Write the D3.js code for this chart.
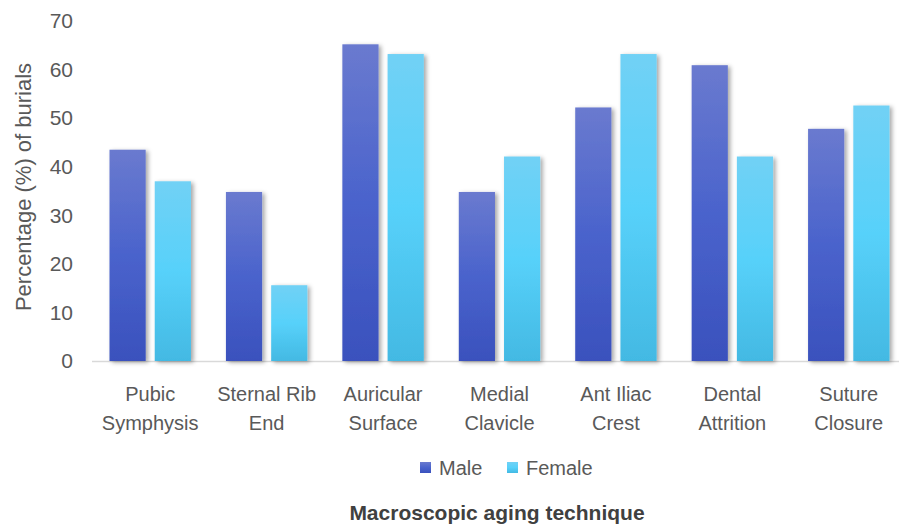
<!DOCTYPE html>
<html>
<head>
<meta charset="utf-8">
<script src="https://cdn.jsdelivr.net/npm/d3@7"></script>
<style>
  body { margin: 0; background: #fff; }
  text { font-family: "Liberation Sans", Arial, sans-serif; fill: #595959; }
</style>
</head>
<body>
<svg id="chart" width="899" height="524"></svg>
<script>
const categories = [
  ['Pubic', 'Symphysis'],
  ['Sternal Rib', 'End'],
  ['Auricular', 'Surface'],
  ['Medial', 'Clavicle'],
  ['Ant Iliac', 'Crest'],
  ['Dental', 'Attrition'],
  ['Suture', 'Closure'],
];
const seriesNames = ['Male', 'Female'];
const maleValues = [43.5, 34.8, 65.2, 34.8, 52.2, 60.9, 47.8];
const femaleValues = [37.0, 15.6, 63.2, 42.1, 63.2, 42.1, 52.6];
const yTicks = [0, 10, 20, 30, 40, 50, 60, 70];

const width = 899;
const height = 524;
const svg = d3.select('#chart');

const catKeys = categories.map((c) => c.join(' '));
const rows = catKeys.map((key, i) => ({ key, values: [maleValues[i], femaleValues[i]] }));

const x0 = d3.scaleBand().domain(catKeys).range([92, 907]).padding(0);
const x1 = d3.scaleBand().domain(seriesNames).range([17.5, x0.bandwidth() - 17.5]).paddingInner(0.2);
const y = d3.scaleLinear().domain([0, 70]).range([361, 21]);

const defs = svg.append('defs');
const gradients = [
  { id: 'gMale', stops: ['#6a7acf', '#4a63cc', '#3a51bd'] },
  { id: 'gFemale', stops: ['#71d1f5', '#57d1fa', '#43b9e3'] },
];
gradients.forEach((g) => {
  const lg = defs.append('linearGradient').attr('id', g.id)
    .attr('x1', 0).attr('y1', 0).attr('x2', 0).attr('y2', 1);
  g.stops.forEach((c, i) => lg.append('stop').attr('offset', `${i * 50}%`).attr('stop-color', c));
});
const filter = defs.append('filter').attr('id', 'shadow')
  .attr('x', '-20%').attr('y', '-5%').attr('width', '150%').attr('height', '115%');
filter.append('feDropShadow').attr('dx', 2.5).attr('dy', 1.5).attr('stdDeviation', 2)
  .attr('flood-color', '#000').attr('flood-opacity', 0.35);

// axis line
svg.append('line')
  .attr('x1', 92).attr('x2', 899)
  .attr('y1', y(0) + 0.5).attr('y2', y(0) + 0.5)
  .attr('stroke', '#d9d9d9').attr('stroke-width', 1.5);

// bars
const groups = svg.append('g')
  .selectAll('g')
  .data(rows)
  .enter()
  .append('g')
  .attr('transform', (d) => `translate(${x0(d.key)},0)`);

groups.selectAll('rect')
  .data((d) => d.values.map((v, i) => ({ name: seriesNames[i], value: v })))
  .enter()
  .append('rect')
  .attr('x', (d) => x1(d.name))
  .attr('y', (d) => y(d.value))
  .attr('width', x1.bandwidth())
  .attr('height', (d) => y(0) - y(d.value))
  .attr('fill', (d) => (d.name === 'Male' ? 'url(#gMale)' : 'url(#gFemale)'))
  .attr('filter', 'url(#shadow)');

// y tick labels
svg.append('g')
  .selectAll('text')
  .data(yTicks)
  .enter()
  .append('text')
  .text((d) => d)
  .attr('x', 73)
  .attr('y', (d) => y(d))
  .attr('dy', '0.35em')
  .attr('text-anchor', 'end')
  .style('font-size', '21px');

// category labels
const catLabels = svg.append('g')
  .selectAll('text')
  .data(categories)
  .enter()
  .append('text')
  .attr('text-anchor', 'middle')
  .style('font-size', '20px');

catLabels.selectAll('tspan')
  .data((d, i) => d.map((line) => ({ line, key: catKeys[i] })))
  .enter()
  .append('tspan')
  .attr('x', (d) => x0(d.key) + x0.bandwidth() / 2)
  .attr('y', (d, i) => 401 + i * 29)
  .text((d) => d.line);

// legend
const legendItems = [
  { name: 'Male', fill: 'url(#gMale)', x: 420 },
  { name: 'Female', fill: 'url(#gFemale)', x: 507 },
];
const legend = svg.append('g');
legend.selectAll('rect')
  .data(legendItems)
  .enter()
  .append('rect')
  .attr('x', (d) => d.x)
  .attr('y', 462)
  .attr('width', 11)
  .attr('height', 11)
  .attr('fill', (d) => d.fill);
legend.selectAll('text')
  .data(legendItems)
  .enter()
  .append('text')
  .text((d) => d.name)
  .attr('x', (d) => d.x + 19)
  .attr('y', 475)
  .style('font-size', '20px');

// axis titles
svg.append('text')
  .text('Macroscopic aging technique')
  .attr('x', 497)
  .attr('y', 520)
  .attr('text-anchor', 'middle')
  .style('font-size', '21px')
  .style('font-weight', 'bold')
  .style('fill', '#404040');

svg.append('text')
  .text('Percentage (%) of burials')
  .attr('transform', 'translate(31,187) rotate(-90)')
  .attr('text-anchor', 'middle')
  .style('font-size', '22px');
</script>
</body>
</html>
